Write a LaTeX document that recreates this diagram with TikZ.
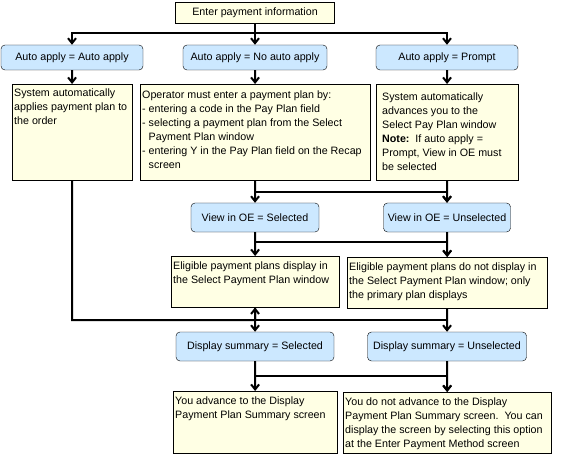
\documentclass[tikz,border=0pt]{standalone}
\usepackage{fontspec}
\setmainfont{Liberation Sans}
\definecolor{choiceblue}{RGB}{204,232,255}
\definecolor{notecream}{RGB}{255,255,228}
\usetikzlibrary{arrows.meta}
\newcommand{\notetext}[3]{\parbox[t][#2pt][t]{#1pt}{\raggedright #3}}

\begin{document}
\begin{tikzpicture}[x=1pt, y=-1pt,
  every node/.style={font=\fontsize{10.7}{14}\selectfont},
  choice/.style={draw, fill=choiceblue, rounded corners=4pt, minimum height=25pt, inner sep=0pt},
  note/.style={draw, fill=notecream, anchor=north west, inner xsep=2pt},
  flow/.style={line width=2pt, -{Straight Barb[length=5pt, width=8pt]}},
  link/.style={line width=2pt}]
\useasboundingbox (0,0) rectangle (588,470);

\node[draw, fill=notecream, minimum width=159pt, minimum height=21pt, inner sep=0pt]
  (start) at (255,12.5) {Enter payment information};

% auto apply choices
\node[choice, minimum width=142pt] (auto) at (72,57.5) {Auto apply = Auto apply};
\node[choice, minimum width=144pt] (noauto) at (255,57.5) {Auto apply = No auto apply};
\node[choice, minimum width=142pt] (prompt) at (447,57.5) {Auto apply = Prompt};

\node[note, inner ysep=5pt] (sysapply) at (12,84)
  {\notetext{116}{86}{System automatically\\applies payment plan to\\the order}};
\node[note, inner ysep=6.5pt] (operator) at (140,84)
  {\notetext{226}{83}{Operator must enter a payment plan by:\\
   - entering a code in the Pay Plan field\\
   - selecting a payment plan from the Select\\
   \phantom{- }Payment Plan window\\
   - entering Y in the Pay Plan field on the Recap\\
   \phantom{- }screen}};
\node[note, inner xsep=6pt, inner ysep=9pt] (advance) at (376,84)
  {\notetext{130}{78}{System automatically\\advances you to the\\Select Pay Plan window\\
   \textbf{Note:}\ \ If auto apply =\\Prompt, View in OE must\\be selected}};

% view in OE
\node[choice, minimum width=128pt, minimum height=29pt] (viewsel) at (255,217.5) {View in OE = Selected};
\node[choice, minimum width=127pt, minimum height=29pt] (viewunsel) at (447,217.5) {View in OE = Unselected};

\node[note, inner ysep=6pt] (listsel) at (171,256)
  {\notetext{164}{39}{Eligible payment plans display in\\the Select Payment Plan window}};
\node[note, inner ysep=6pt] (listunsel) at (347,257)
  {\notetext{196}{39}{Eligible payment plans do not display in\\the Select Payment Plan window; only\\the primary plan displays}};

% display summary
\node[choice, minimum width=158pt, minimum height=29pt] (sumsel) at (255,346.5) {Display summary = Selected};
\node[choice, minimum width=159pt, minimum height=29pt] (sumunsel) at (447,346.5) {Display summary = Unselected};

\node[note, inner ysep=6pt] (advanced) at (173,391)
  {\notetext{160}{50}{You advance to the Display\\Payment Plan Summary screen}};
\node[note, inner ysep=6pt] (notadvance) at (343,392)
  {\notetext{204}{49}{You do not advance to the Display\\Payment Plan Summary screen.\ \ You can\\
   display the screen by selecting this option\\at the Enter Payment Method screen}};

\coordinate (split) at (255,33);
\coordinate (fork) at (255,192);
\coordinate (fork2) at (255,242);
\coordinate (merge) at (255,320);
\coordinate (fork3) at (255,376);

\draw[flow] (start) -- (noauto);
\draw[flow] (split) -| (auto);
\draw[flow] (split) -| (prompt);
\draw[flow] (auto) -- (sysapply);
\draw[flow] (noauto) -- (operator);
\draw[flow] (prompt) -- (advance);

\draw[flow] (operator) -- (viewsel);
\draw[flow] (fork) -| (viewunsel);
\draw[flow] (advance) -- (viewunsel);

\draw[flow] (viewsel) -- (listsel);
\draw[flow] (fork2) -| (listunsel);
\draw[flow] (viewunsel) -- (listunsel);

\draw[flow] (sysapply) |- (merge) -- (listsel);
\draw[link] (merge) -- (listunsel |- merge);
\draw[flow] (listsel) -- (sumsel);
\draw[flow] (listunsel) -- (sumunsel);

\draw[flow] (sumsel) -- (advanced);
\draw[flow] (fork3) -| (notadvance);
\draw[flow] (sumunsel) -- (notadvance);
\end{tikzpicture}
\end{document}
